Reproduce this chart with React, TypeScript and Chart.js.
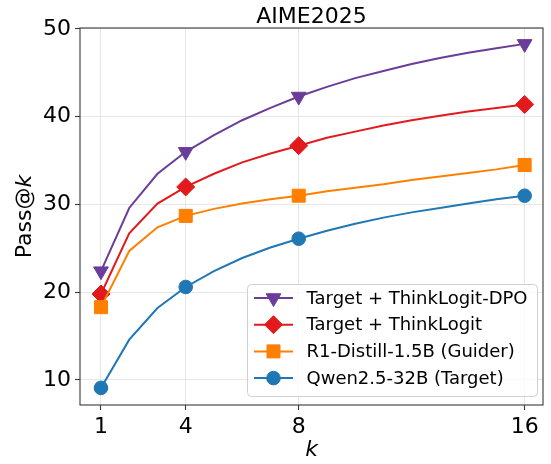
import React, { useEffect, useRef } from 'react';
import { Chart, registerables } from 'chart.js';

Chart.register(...registerables);

const chartTitle = 'AIME2025';
const kValues = [1, 2, 3, 4, 5, 6, 7, 8, 9, 10, 11, 12, 13, 14, 15, 16];
const thinkLogitDpo = [22.4, 29.6, 33.5, 36.0, 37.9, 39.6, 41.0, 42.3, 43.4, 44.4, 45.2, 46.0, 46.7, 47.3, 47.8, 48.3];
const thinkLogit = [19.8, 26.7, 30.1, 32.0, 33.5, 34.8, 35.8, 36.7, 37.6, 38.3, 39.0, 39.6, 40.1, 40.6, 41.0, 41.4];
const guider = [18.3, 24.7, 27.4, 28.7, 29.5, 30.1, 30.6, 31.0, 31.5, 31.9, 32.3, 32.8, 33.2, 33.6, 34.0, 34.5];
const targetModel = [9.1, 14.6, 18.2, 20.6, 22.4, 23.9, 25.1, 26.1, 27.0, 27.8, 28.5, 29.1, 29.6, 30.1, 30.6, 31.0];
const markerKs = [1, 4, 8, 16];
const xTicks = [1, 4, 8, 16];
const yTicks = [10, 20, 30, 40, 50];
const seriesLabels = [
  'Target + ThinkLogit-DPO',
  'Target + ThinkLogit',
  'R1-Distill-1.5B (Guider)',
  'Qwen2.5-32B (Target)',
];
const seriesValues = [thinkLogitDpo, thinkLogit, guider, targetModel];
const seriesColors = ['#6a3d9a', '#e31a1c', '#ff7f00', '#1f77b4'];
const seriesStyles = [
  { pointStyle: 'triangle', rotation: 180, radius: 8.5 },
  { pointStyle: 'rectRot', rotation: 0, radius: 9 },
  { pointStyle: 'rect', rotation: 0, radius: 9.2 },
  { pointStyle: 'circle', rotation: 0, radius: 6.8 },
];

const FONT = "'DejaVu Sans', sans-serif";

function drawMarker(ctx: CanvasRenderingContext2D, style: string, rotation: number, x: number, y: number, r: number, color: string) {
  ctx.save();
  ctx.fillStyle = color;
  ctx.strokeStyle = color;
  ctx.lineWidth = 1;
  ctx.beginPath();
  if (style === 'circle') {
    ctx.arc(x, y, r, 0, Math.PI * 2);
  } else if (style === 'rect') {
    const s = Math.SQRT1_2 * r;
    ctx.rect(x - s, y - s, 2 * s, 2 * s);
  } else if (style === 'rectRot') {
    ctx.moveTo(x - r, y);
    ctx.lineTo(x, y - r);
    ctx.lineTo(x + r, y);
    ctx.lineTo(x, y + r);
    ctx.closePath();
  } else if (style === 'triangle') {
    let rad = (rotation * Math.PI) / 180;
    ctx.moveTo(x + Math.sin(rad) * r, y - Math.cos(rad) * r);
    rad += (2 * Math.PI) / 3;
    ctx.lineTo(x + Math.sin(rad) * r, y - Math.cos(rad) * r);
    rad += (2 * Math.PI) / 3;
    ctx.lineTo(x + Math.sin(rad) * r, y - Math.cos(rad) * r);
    ctx.closePath();
  }
  ctx.fill();
  ctx.stroke();
  ctx.restore();
}

const decorPlugin = {
  id: 'decor',
  afterDatasetsDraw(chart: any) {
    const ctx: CanvasRenderingContext2D = chart.ctx;
    const a = chart.chartArea;
    // frame
    ctx.save();
    ctx.strokeStyle = '#3a3a3a';
    ctx.lineWidth = 1.1;
    ctx.strokeRect(a.left, a.top, a.right - a.left, a.bottom - a.top);
    ctx.restore();

    // legend
    const lx = 247, ly = 284, lw = 290, lh = 112;
    ctx.save();
    ctx.beginPath();
    (ctx as any).roundRect(lx + 0.5, ly + 0.5, lw, lh, 4);
    ctx.fillStyle = 'rgba(255,255,255,0.8)';
    ctx.fill();
    ctx.strokeStyle = '#d0d0d0';
    ctx.lineWidth = 1;
    ctx.stroke();
    ctx.font = `18px ${FONT}`;
    ctx.textBaseline = 'middle';
    ctx.textAlign = 'left';
    seriesLabels.forEach((label, i) => {
      const cy = 298 + i * 26.7;
      ctx.strokeStyle = seriesColors[i];
      ctx.lineWidth = 2;
      ctx.beginPath();
      ctx.moveTo(254, cy);
      ctx.lineTo(293, cy);
      ctx.stroke();
      const st = seriesStyles[i];
      drawMarker(ctx, st.pointStyle, st.rotation, 273.5, cy, st.radius, seriesColors[i]);
      ctx.fillStyle = '#000';
      ctx.fillText(label, 306.5, cy + 1);
    });
    ctx.restore();

    // title and axis labels
    ctx.save();
    ctx.fillStyle = '#000';
    ctx.font = `22px ${FONT}`;
    ctx.textAlign = 'center';
    ctx.textBaseline = 'alphabetic';
    const cx = (a.left + a.right) / 2;
    ctx.fillText(chartTitle, cx, 23);
    // x label
    ctx.font = `italic 22px ${FONT}`;
    ctx.fillText('k', cx, 456);
    // y label
    const cyMid = (a.top + a.bottom) / 2;
    ctx.translate(31, cyMid);
    ctx.rotate(-Math.PI / 2);
    ctx.font = `22px ${FONT}`;
    const w1 = ctx.measureText('Pass@').width;
    ctx.font = `italic 22px ${FONT}`;
    const w2 = ctx.measureText('k').width;
    const start = -(w1 + w2) / 2;
    ctx.textAlign = 'left';
    ctx.font = `22px ${FONT}`;
    ctx.fillText('Pass@', start, 0);
    ctx.font = `italic 22px ${FONT}`;
    ctx.fillText('k', start + w1, 0);
    ctx.restore();
  },
};

export default function App() {
  const canvasRef = useRef<HTMLCanvasElement | null>(null);

  useEffect(() => {
    document.body.style.margin = '0';
    const canvas = canvasRef.current;
    if (!canvas) return;
    const datasets = seriesLabels.map((label, i) => {
      const st = seriesStyles[i];
      return {
        label,
        data: kValues.map((k, j) => ({ x: k, y: seriesValues[i][j] })),
        borderColor: seriesColors[i],
        backgroundColor: seriesColors[i],
        borderWidth: 2,
        tension: 0,
        pointStyle: st.pointStyle,
        pointRotation: st.rotation,
        pointRadius: (c: any) => (markerKs.includes(kValues[c.dataIndex]) ? st.radius : 0),
        pointHoverRadius: 0,
        pointBorderWidth: 1,
        pointBorderColor: seriesColors[i],
        pointBackgroundColor: seriesColors[i],
        order: seriesLabels.length - i,
        clip: false as any,
      };
    });
    const chart = new Chart(canvas, {
      type: 'line',
      data: { datasets: datasets as any },
      options: {
        responsive: false,
        animation: false,
        events: [],
        devicePixelRatio: 1,
        layout: { autoPadding: false, padding: { top: 28, right: 8, left: 0, bottom: 0 } },
        plugins: {
          legend: { display: false },
          title: { display: false },
          tooltip: { enabled: false },
        },
        scales: {
          x: {
            type: 'linear',
            min: 0.257,
            max: 16.65,
            afterBuildTicks: (s: any) => {
              s.ticks = xTicks.map((v) => ({ value: v }));
            },
            afterFit: (s: any) => {
              s.height = 59;
              s.paddingLeft = 0;
              s.paddingRight = 0;
            },
            border: { display: false },
            grid: { color: '#e6e6e6', lineWidth: 1, drawTicks: true, tickLength: 5, tickColor: '#3a3a3a', tickWidth: 1.1 },
            ticks: {
              autoSkip: false,
              maxRotation: 0,
              padding: 4,
              color: '#000',
              font: { family: FONT, size: 22 },
              callback: (v: any) => String(v),
            },
          },
          y: {
            type: 'linear',
            min: 7.15,
            max: 50.11,
            afterBuildTicks: (s: any) => {
              s.ticks = yTicks.map((v) => ({ value: v }));
            },
            afterFit: (s: any) => {
              s.width = 80;
              s.paddingTop = 0;
              s.paddingBottom = 0;
            },
            border: { display: false },
            grid: { color: '#e6e6e6', lineWidth: 1, drawTicks: true, tickLength: 5, tickColor: '#3a3a3a', tickWidth: 1.1 },
            ticks: {
              autoSkip: false,
              padding: 4,
              color: '#000',
              font: { family: FONT, size: 22 },
              callback: (v: any) => String(v),
            },
          },
        },
      },
      plugins: [decorPlugin],
    });
    return () => chart.destroy();
  }, []);

  return (
    <div style={{ width: 551, height: 464, background: '#fff' }}>
      <canvas ref={canvasRef} width={551} height={464} style={{ display: 'block' }} />
    </div>
  );
}
